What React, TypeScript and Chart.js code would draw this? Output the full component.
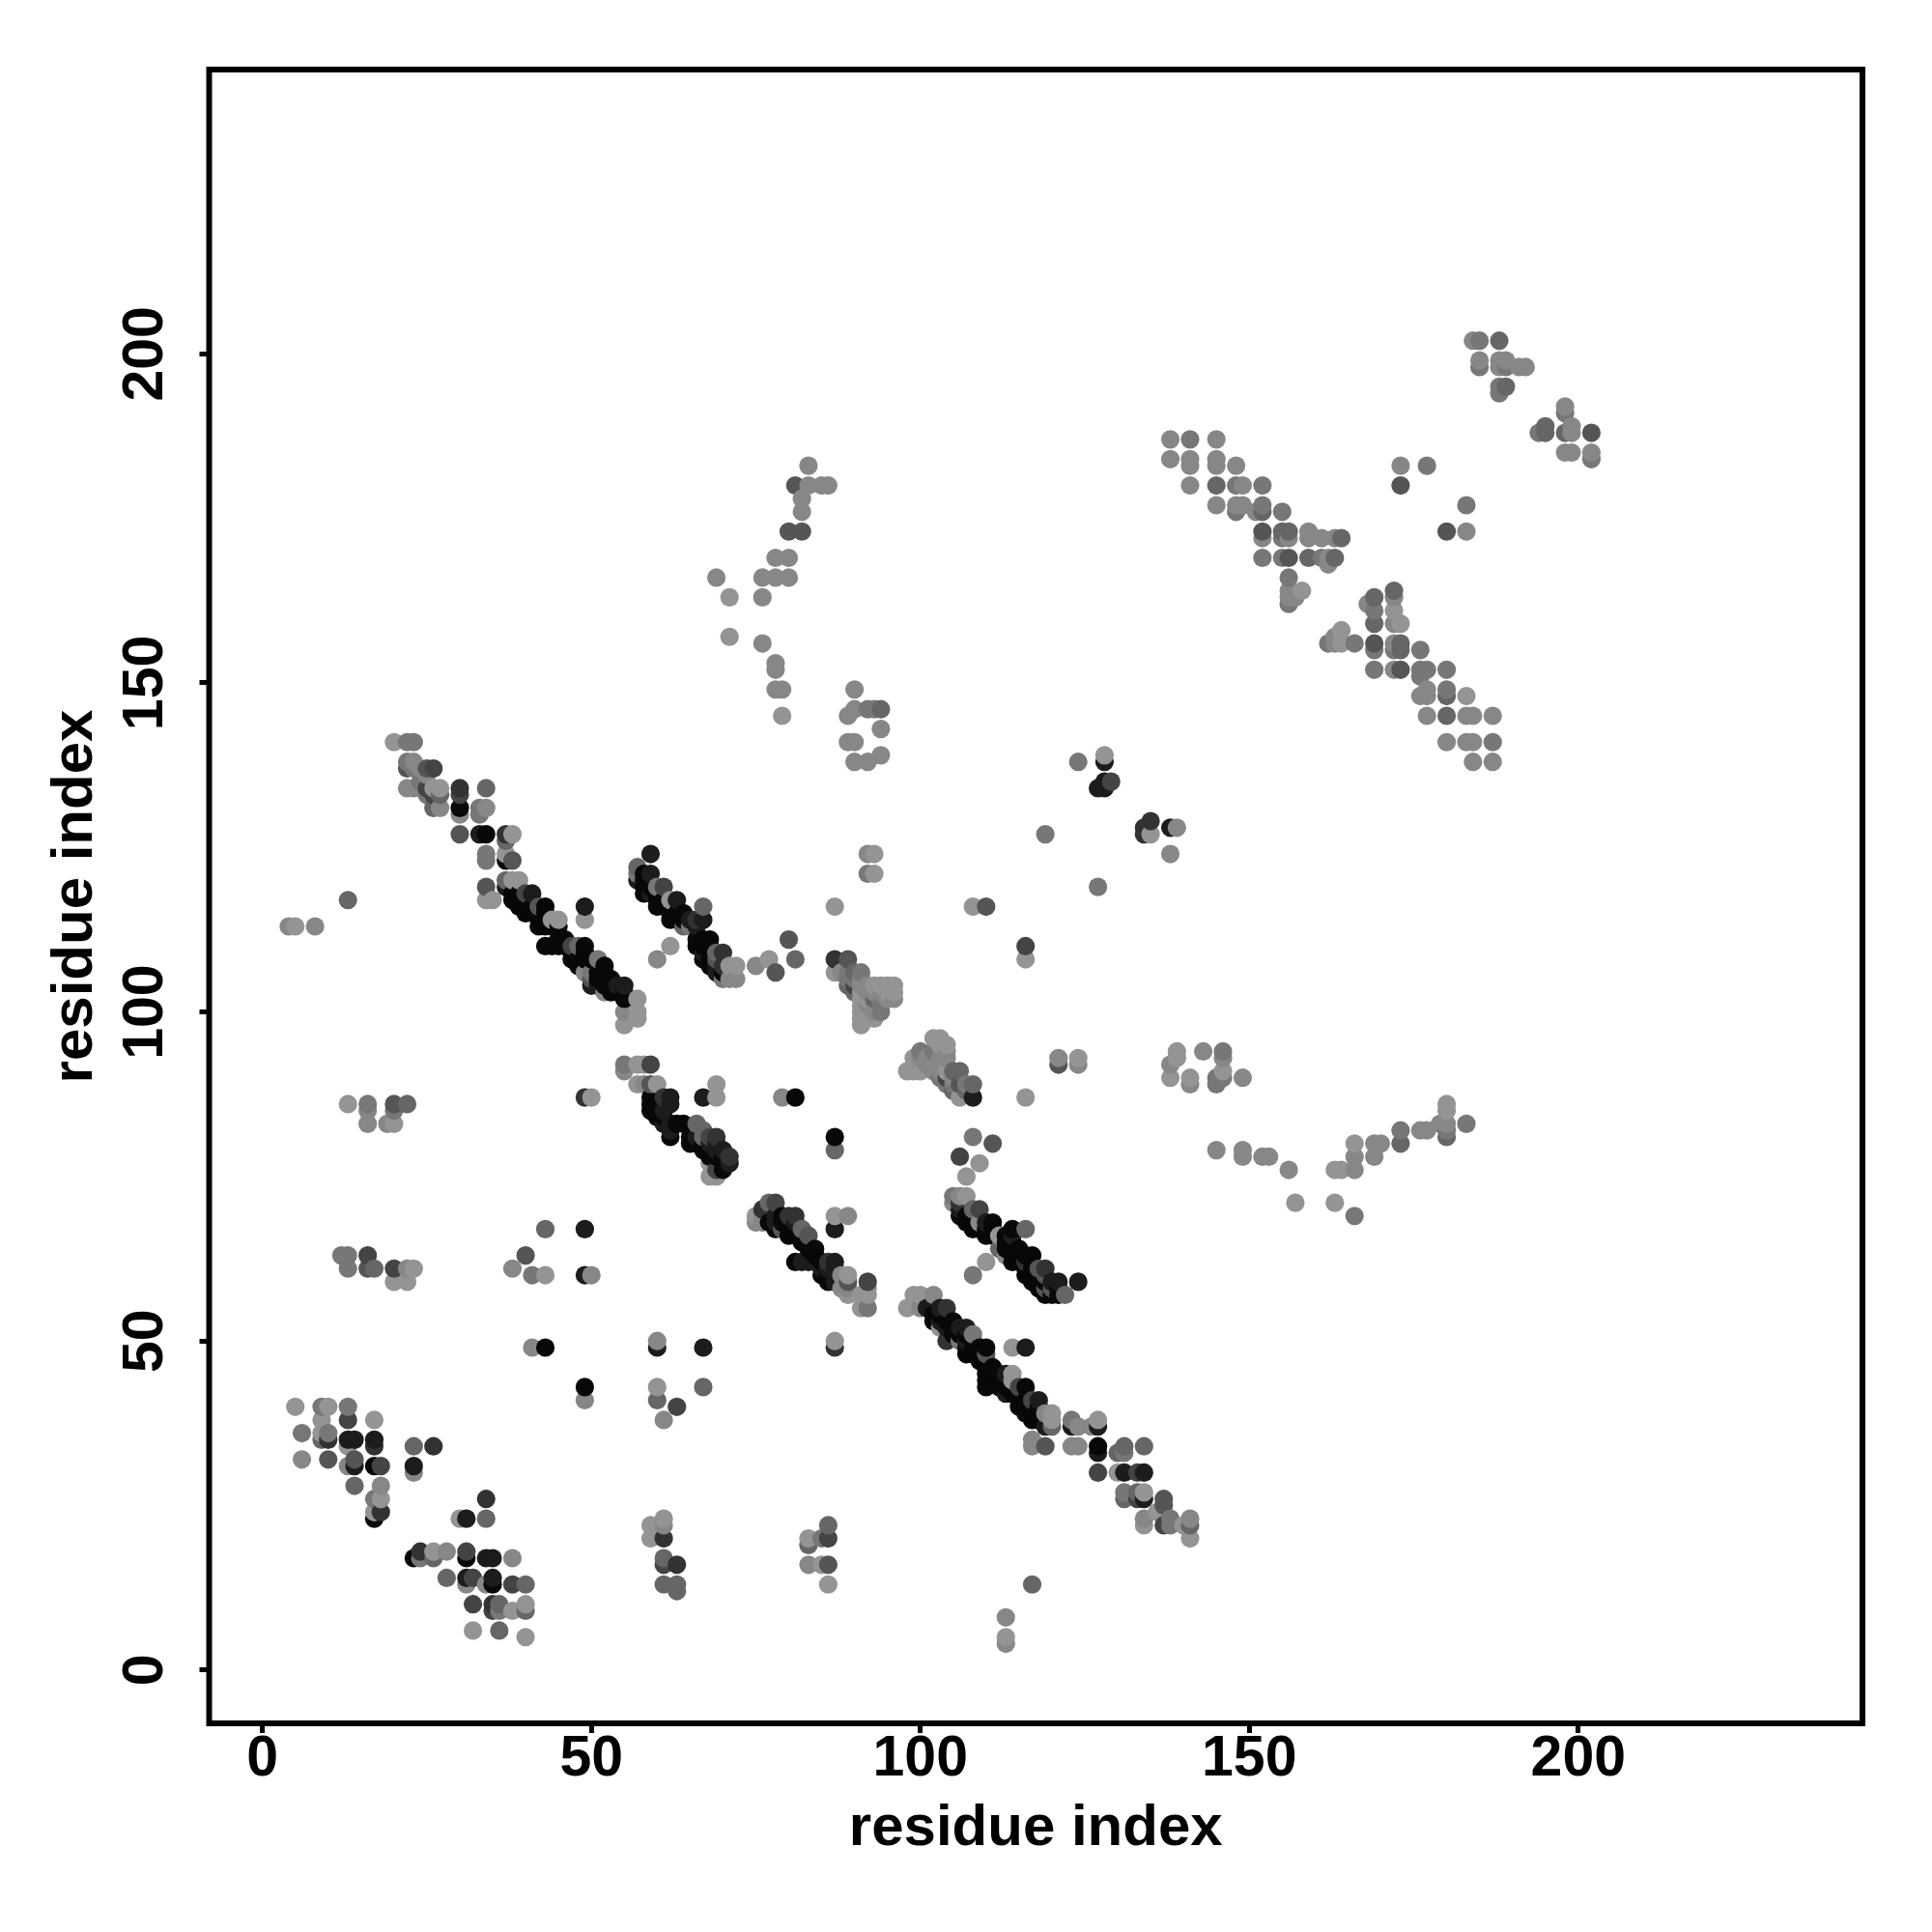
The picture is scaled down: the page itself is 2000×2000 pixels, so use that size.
import React, { useEffect, useRef } from "react";
import { Chart, registerables } from "chart.js";

Chart.register(...registerables);

// contact strength is shown as grey level
const K = 8, A = 28, B = 50, C = 68, E = 85, F = 102, G = 119, H = 135, I = 148;
type P = [number, number, number];

const bottomLeft: P[] = [
  [43,67,F],[49,67,A],[12,63,G],[13,63,G],[16,63,C],[13,61,G],[16,61,E],[17,61,F],[20,61,C],[22,61,H],[23,61,I],[20,59,I],[22,59,I],
  [40,63,E],[38,61,H],[41,60,G],[43,60,I],[49,60,A],[50,60,H],[41,49,H],[43,49,K],[60,49,A],[60,50,H],[67,49,A],
  [49,43,K],[49,41,H],[60,43,I],[60,41,F],[63,40,C],[61,38,H],[67,43,F],
  [5,40,I],[9,40,G],[10,40,I],[13,40,G],[13,38,C],[9,38,I],[17,38,I],[6,36,G],[9,36,I],[10,36,G],[9,35,F],[10,35,B],[13,35,A],[14,35,A],[17,35,A],[17,34,B],[13,34,I],
  [23,34,F],[26,34,B],[6,32,H],[10,32,E],[13,31,H],[14,32,E],[14,31,A],[17,31,K],[18,31,C],[23,31,A],[23,30,H],
  [14,28,F],[18,28,H],[17,26,G],[18,26,I],[17,24,I],[18,24,B],[17,23,K],[34,26,B],[30,23,I],[31,23,A],[34,23,F],
  [23,17,K],[24,17,G],[24,18,B],[26,17,F],[26,18,I],[28,18,H],[31,18,C],[31,17,K],[34,17,A],[35,17,A],[38,17,H],
  [28,14,F],[31,14,A],[31,13,H],[32,14,C],[34,13,H],[35,14,A],[35,13,K],[38,13,C],[40,13,F],
  [32,10,C],[35,10,B],[35,9,C],[36,10,F],[36,9,G],[38,9,I],[40,9,F],[40,10,I],[32,6,I],[36,6,F],[40,5,I],
  [59,22,I],[61,23,I],[61,22,H],[59,20,I],[61,20,B],[61,17,F],[61,16,C],[63,16,B],[61,13,F],[63,13,F],[63,12,F],
  [86,22,F],[83,20,I],[83,19,F],[85,20,G],[86,20,C],[83,16,H],[85,16,I],[86,16,E],[86,13,I],[117,13,F],[113,8,H],[113,5,I],[113,4,H],
];

const helixOne: P[] = [
  [87,69,I],[89,69,H],[87,67,A],[87,50,I],[87,49,B],
  [75,69,I],[75,68,H],[77,71,F],[78,71,C],[76,70,B],[77,68,K],[79,69,K],[80,69,B],[81,69,B],[80,66,K],[82,67,F],[83,66,E],[81,66,K],[79,67,E],[78,68,A],
  [83,64,K],[81,62,K],[82,62,A],[83,62,A],[85,62,K],[86,62,B],[87,62,A],[85,61,A],[86,59,K],[87,59,A],[87,60,A],[86,61,A],[87,61,A],
  [89,60,I],[89,59,E],[89,58,H],[89,57,I],[91,57,I],[92,59,C],[92,58,I],[92,57,I],[91,55,I],[92,55,G],
  [76,69,H],[76,68,H],[78,69,A],[78,67,K],[79,68,K],[80,68,K],[80,67,K],[81,68,A],[81,67,K],[82,66,K],[82,65,K],[84,64,K],[84,63,K],[84,62,A],[85,60,K],[86,60,K],[88,60,H],[88,58,H],
];

const helixTwo: P[] = [
  [105,72,G],[105,71,H],[106,72,H],[107,72,I],[106,71,B],[106,70,A],[106,69,K],[108,70,F],[109,70,C],[111,68,K],[111,67,K],[108,67,K],[107,68,K],[109,68,H],[110,66,K],[111,66,K],
  [112,66,I],[114,67,K],[116,67,F],[114,66,A],[112,64,F],[114,64,K],[115,64,K],[117,63,K],[114,62,K],[113,63,H],[116,62,B],[115,62,K],[118,61,E],[119,61,B],[116,60,K],[117,60,K],[119,60,E],
  [118,58,K],[121,59,A],[124,59,A],[122,57,F],[120,57,K],[120,58,E],[121,57,K],[119,58,E],[108,60,G],[110,62,I],
  [108,81,G],[111,80,E],[106,78,C],[109,77,I],[107,75,I],
  [107,69,K],[108,68,K],[109,67,K],[110,67,K],[110,68,A],[113,66,K],[113,65,K],[113,64,K],[114,65,K],[115,63,K],[116,63,K],[116,61,K],[117,61,K],[117,59,K],[118,59,K],[118,60,K],[119,59,K],[119,57,K],[120,59,A],[121,58,K],
];

const midCluster: P[] = [
  [103,96,I],[102,96,I],[104,95,I],[103,95,I],[100,94,G],[99,93,I],[102,94,G],[104,94,H],[103,93,H],[104,93,H],[100,93,H],[98,91,I],[99,91,I],[100,91,I],[102,91,H],[103,92,H],[104,91,I],[105,91,F],[106,91,F],[104,90,C],[104,89,G],[105,90,H],[106,89,E],[108,89,F],[106,87,I],[108,87,A],[116,87,I],
  [121,93,H],[121,92,E],[124,93,I],[124,92,H],
  [101,93,H],[101,92,H],[102,93,H],[102,92,H],[103,91,H],[103,90,G],[105,89,G],[105,88,F],[107,89,G],[107,88,F],
];

const farRight: P[] = [
  [139,94,I],[139,93,I],[138,92,H],[138,90,I],[141,90,I],[141,89,H],[143,94,H],[146,94,G],[146,93,H],[146,91,I],[145,90,G],[145,89,G],[146,90,G],[149,90,H],
  [145,79,H],[149,79,H],[149,78,H],[152,78,H],[153,78,H],[156,76,H],[157,71,I],[163,71,I],[163,76,I],[164,76,I],
  [166,80,I],[166,78,H],[166,76,H],[169,80,H],[170,80,H],[169,78,H],[173,82,G],[173,80,F],[176,82,H],[177,82,H],[179,83,H],[180,86,I],[180,85,I],[180,83,H],[180,82,G],[180,81,F],[183,83,G],[166,69,G],
];

const upperLeftChain: P[] = [
  [20,141,I],[22,141,G],[23,141,G],[22,138,G],[23,138,H],[22,137,E],[23,137,G],[25,137,E],[26,137,C],
  [22,134,H],[23,134,H],[25,134,C],[26,134,I],[25,133,G],[26,133,C],[27,133,F],[27,134,I],[26,131,F],[27,131,H],[30,134,B],[30,133,C],[30,131,K],[30,130,H],[34,134,F],[33,131,G],[33,130,G],[34,131,H],
  [30,127,E],[33,127,A],[34,127,K],[37,127,B],[38,127,I],[37,126,F],[34,124,G],[34,123,G],[37,124,I],[37,123,K],[38,123,E],
  [37,120,F],[38,120,I],[39,120,I],[34,119,E],[37,119,A],[34,117,I],[35,117,I],[38,117,K],[41,118,A],[40,118,C],[43,116,K],[42,116,E],[40,115,K],[45,114,I],[44,114,I],[42,113,K],[45,113,K],
  [43,110,K],[44,110,K],[45,110,K],[45,111,K],[46,110,K],[47,110,C],[48,110,F],[49,110,K],[49,109,K],[48,107,K],[47,109,K],[51,108,G],[49,116,A],[49,114,I],
  [52,107,K],[52,106,K],[50,104,A],[51,104,A],[50,105,E],[52,103,H],[52,104,K],[54,104,A],[55,104,A],[55,102,K],[57,102,I],[55,100,H],[55,98,I],[57,100,I],[57,99,I],
  [4,113,H],[5,113,I],[8,113,H],[13,117,F],
  [13,86,I],[16,86,G],[16,85,H],[16,83,H],[19,83,H],[20,83,I],[20,86,E],[20,85,G],[22,86,F],[49,87,B],[50,87,I],
  [24,137,H],[25,136,H],[24,135,G],[38,118,K],[39,118,K],[39,117,K],[39,116,K],[40,117,K],[40,116,K],[41,116,K],[41,115,K],[42,115,K],[43,115,K],[43,114,K],[43,113,K],[44,113,K],[46,111,K],[47,108,K],[48,108,K],[49,108,K],[50,108,K],[49,106,H],[50,106,G],[51,105,K],[51,106,K],[53,105,K],[53,104,K],[53,103,K],[54,103,K],[55,103,K],
];

const helixThree: P[] = [
  [55,92,G],[55,91,H],[57,92,I],[58,92,I],[59,92,C],[57,89,I],[58,89,H],[59,89,E],[60,89,I],[69,89,I],[69,87,I],[67,87,A],
  [59,87,K],[59,86,K],[61,87,B],[62,87,A],[62,86,A],[60,86,K],[61,85,A],[62,83,A],[62,82,A],[62,81,K],[64,83,K],[66,83,F],[67,82,F],[66,80,K],[68,81,C],[69,81,B],[69,80,A],[67,79,K],[68,78,K],[71,78,B],[69,79,A],[70,77,K],[68,75,I],[69,75,I],[68,77,I],[71,77,A],[70,76,K],[69,76,C],
  [59,85,K],[60,85,K],[60,84,K],[61,84,K],[61,83,A],[63,83,K],[65,81,K],[65,80,K],[66,81,A],[67,81,F],[67,80,K],[68,80,A],[68,79,K],[69,78,K],[70,79,A],[70,78,K],
];

const helixFour: P[] = [
  [57,122,F],[57,121,G],[59,124,A],[58,121,K],[59,121,A],[57,120,A],[58,118,K],[60,119,G],[61,119,C],[60,116,K],[63,117,A],[62,117,I],[63,115,K],[67,116,F],[62,114,K],[64,114,K],[66,114,B],[67,114,A],[64,113,F],[62,110,I],[60,108,H],
  [66,111,K],[67,111,K],[68,111,K],[66,110,K],[67,109,A],[67,108,K],[69,109,F],[70,109,B],[69,106,A],[68,107,K],[71,107,I],[72,107,I],[71,105,H],[72,105,H],[70,105,G],[70,107,B],
  [78,106,E],[75,107,H],[77,108,I],[80,111,E],[81,108,F],
  [58,120,K],[58,119,K],[59,119,K],[59,118,A],[60,118,K],[60,117,K],[61,117,K],[61,116,K],[62,116,K],[62,115,K],[63,114,K],[64,115,K],[65,114,A],[65,113,G],[66,113,A],[67,110,K],[68,110,K],[68,109,K],[68,108,K],[69,108,E],[69,107,A],[70,106,K],
];

const centerBlob: P[] = [
  [87,108,B],[89,108,E],[87,106,I],[89,106,G],[90,106,F],[91,106,G],[88,106,H],[89,104,F],[90,104,C],[91,104,H],[91,103,I],[91,100,I],[91,98,I],[93,103,H],[93,99,I],[94,100,G],[94,101,G],[95,104,I],[96,104,I],[96,102,H],[93,102,F],[87,116,I],
  [79,87,H],[81,87,K],[87,81,K],[87,79,F],
  [89,105,G],[90,105,G],[90,103,F],[91,105,H],[91,102,I],[91,101,I],[91,99,I],[92,104,H],[92,103,H],[92,102,I],[92,101,H],[92,100,I],[92,99,I],[93,104,I],[93,101,H],[93,100,H],[94,104,I],[94,103,H],[95,103,I],[95,102,H],[96,103,I],
];

const upperMiddle: P[] = [
  [69,166,H],[71,163,I],[71,157,I],[76,166,H],[76,163,H],[76,156,H],[78,166,H],[80,166,H],[78,169,H],[80,169,H],[80,173,E],[82,173,E],[82,176,H],[82,178,H],[81,180,E],[83,180,H],[83,183,H],[85,180,H],[86,180,H],
  [78,153,H],[78,152,H],[78,149,H],[79,149,H],[79,145,I],[90,149,H],[89,145,H],[90,146,H],[92,146,G],[94,146,F],[94,143,H],[89,141,H],[90,141,H],[90,138,H],[92,138,H],[94,139,H],[93,146,G],
  [92,124,H],[93,124,I],[92,121,G],[93,121,I],
  [124,138,G],[128,139,I],[128,138,A],[128,135,A],[127,134,A],[128,134,A],[129,135,C],[119,127,G],[127,119,G],[134,127,B],[134,128,B],[135,129,B],[135,127,I],[138,128,A],[139,128,H],[138,124,H],[108,116,I],[110,116,E],[116,110,C],[116,108,I],
];

const upperRight: P[] = [
  [138,187,H],[141,187,G],[145,187,H],[138,184,H],[141,184,H],[141,183,H],[145,184,H],[145,183,H],[148,183,H],[141,180,H],[145,180,F],[148,180,G],[149,180,H],[152,180,G],[145,177,H],[148,177,H],[149,177,H],[148,176,G],[151,176,H],[152,177,G],[152,176,F],[155,176,G],
  [152,173,E],[152,172,H],[155,173,F],[156,173,F],[155,172,G],[156,172,H],[159,173,H],[159,172,H],[161,172,H],[163,172,H],[164,172,F],[152,169,G],[155,169,G],[156,169,E],[159,169,F],[161,169,G],[162,169,H],[162,168,H],[163,169,F],
  [156,166,G],[156,164,H],[156,163,H],[156,162,G],[157,163,H],[158,164,I],[162,156,G],[163,156,H],[163,157,H],[164,158,I],[164,156,I],[166,156,G],
  [169,163,F],[168,162,H],[169,161,G],[169,159,F],[172,164,F],[172,163,H],[172,161,I],[172,159,H],[173,159,I],[169,156,E],[169,155,G],[172,156,H],[172,155,G],[173,156,F],[173,155,F],[176,155,G],
  [169,152,G],[172,152,H],[173,152,E],[176,152,G],[177,152,G],[176,151,G],[180,152,G],[176,148,H],[177,148,H],[177,149,H],[180,149,G],[180,148,F],[183,148,I],[177,145,H],[180,145,F],[183,145,H],[184,145,H],[187,145,H],
  [180,141,H],[183,141,H],[184,141,H],[187,141,G],[184,138,H],[187,138,H],[173,183,H],[177,183,G],[173,180,E],[183,177,G],[180,173,E],[183,173,H],
  [194,188,G],[195,189,F],[195,188,F],[198,191,G],[198,192,H],[198,188,F],[199,189,H],[199,188,H],[202,188,E],[198,185,H],[199,185,H],[202,185,H],[202,184,G],
  [184,202,H],[185,202,G],[188,202,F],[185,199,H],[185,198,G],[188,199,H],[189,199,H],[188,198,H],[189,198,G],[191,198,H],[192,198,H],[188,195,G],[189,195,F],[188,194,G],
];

const lowerDiagonal: P[] = [
  [98,55,I],[99,57,I],[100,57,I],[100,55,H],[102,57,H],[101,55,A],[103,55,A],[104,55,B],[103,53,A],[102,53,K],[103,52,I],[104,52,A],[104,50,B],[106,52,A],[107,52,A],[108,51,G],[106,50,G],[107,50,A],[107,48,K],[109,49,K],[110,49,K],[110,48,E],[109,47,K],
  [110,45,K],[110,44,K],[110,43,K],[113,45,A],[114,45,I],[114,44,I],[113,42,A],[115,43,C],[116,43,K],[115,40,K],[118,41,A],[117,41,C],[117,38,K],[119,39,H],[120,39,I],[120,38,I],[120,37,F],[119,37,A],[114,49,I],[116,49,A],
  [117,35,H],[117,34,H],[119,34,E],[123,38,G],[123,37,A],[124,37,H],[126,37,H],[127,38,I],[127,37,A],[123,34,H],[124,34,H],[127,34,K],[127,33,A],[127,30,C],
  [130,33,F],[131,34,F],[131,33,G],[134,34,F],[130,30,I],[131,30,A],[133,30,C],[134,30,A],[131,27,G],[131,26,F],[133,27,F],[133,26,C],[134,27,I],[134,26,A],[134,23,H],[134,22,I],[137,26,E],[137,25,E],[137,22,C],[138,23,G],[138,22,G],[140,22,I],[141,23,H],[141,22,F],[141,20,I],[136,24,I],
  [102,54,K],[103,54,K],[104,53,K],[105,53,K],[105,52,K],[105,51,K],[106,51,K],[107,51,K],[107,49,K],[108,50,K],[108,49,K],[108,48,K],[109,48,K],[110,47,K],[110,46,K],[111,46,K],[111,45,K],[112,45,K],[112,44,K],[112,43,K],[113,44,K],[113,43,K],[114,43,K],[114,42,K],[115,42,K],[115,41,K],[116,41,K],[116,40,K],[116,39,K],[117,40,K],[117,39,K],[118,38,K],[118,39,K],[118,40,K],
];

const xTicks = [0, 50, 100, 150, 200];
const axisTitle = "residue index";

const allContacts: P[] = [
  ...bottomLeft, ...helixOne, ...helixTwo, ...midCluster, ...farRight, ...upperLeftChain,
  ...helixThree, ...helixFour, ...centerBlob, ...upperMiddle, ...upperRight, ...lowerDiagonal,
].sort((a, b) => a[0] - b[0] || a[1] - b[1]);

const TICK_FONT = { family: "'Liberation Sans', Arial, sans-serif", weight: "bold" as const, size: 59 };
const TITLE_FONT = { family: "'Liberation Sans', Arial, sans-serif", weight: "bold" as const, size: 60 };

export default function App() {
  const ref = useRef<HTMLCanvasElement>(null);
  useEffect(() => {
    const frame = {
      id: "frame",
      afterDraw(c: any) {
        const { left, top, right, bottom } = c.chartArea;
        const g = c.ctx;
        g.save();
        g.strokeStyle = "#000";
        g.lineWidth = 6;
        g.lineJoin = "miter";
        g.strokeRect(left, top, right - left, bottom - top);
        g.restore();
      },
    };
    const chart = new Chart(ref.current!, {
      type: "scatter",
      data: {
        datasets: [
          {
            data: allContacts.map((p) => ({ x: p[0], y: p[1] })),
            backgroundColor: allContacts.map((p) => `rgb(${p[2]},${p[2]},${p[2]})`),
            pointRadius: 9.6,
            pointBorderWidth: 0,
          },
        ],
      },
      plugins: [frame],
      options: {
        animation: false,
        responsive: false,
        layout: { padding: { top: 72, right: 72, left: 42.5, bottom: 71 } },
        plugins: { legend: { display: false }, tooltip: { enabled: false } },
        scales: {
          x: {
            type: "linear",
            min: -8.1,
            max: 243.2,
            afterBuildTicks: (s: any) => { s.ticks = xTicks.map((value) => ({ value })); },
            afterFit: (s: any) => { s.height = 145; },
            grid: { drawOnChartArea: false, drawTicks: true, tickLength: 10, tickColor: "#000", tickWidth: 5 },
            border: { display: false },
            ticks: { color: "#000", font: TICK_FONT, padding: -8, maxRotation: 0, minRotation: 0, autoSkip: false, includeBounds: false },
            title: { display: true, text: axisTitle, color: "#000", font: TITLE_FONT, padding: 0 },
          },
          y: {
            type: "linear",
            min: -8.1,
            max: 243.2,
            afterBuildTicks: (s: any) => { s.ticks = xTicks.map((value) => ({ value })); },
            afterFit: (s: any) => { s.width = 174; },
            grid: { drawOnChartArea: false, drawTicks: true, tickLength: 10, tickColor: "#000", tickWidth: 5 },
            border: { display: false },
            ticks: { color: "#000", font: TICK_FONT, padding: 6, minRotation: 90, maxRotation: 90, crossAlign: "center", autoSkip: false, includeBounds: false },
            title: { display: true, text: axisTitle, color: "#000", font: TITLE_FONT, padding: 0 },
          },
        },
      },
    } as any);
    return () => chart.destroy();
  }, []);
  return (
    <div style={{ position: "absolute", left: 0, top: 0, width: 2000, height: 2000, background: "#fff" }}>
      <canvas ref={ref} width={2000} height={2000} style={{ display: "block" }} />
    </div>
  );
}
